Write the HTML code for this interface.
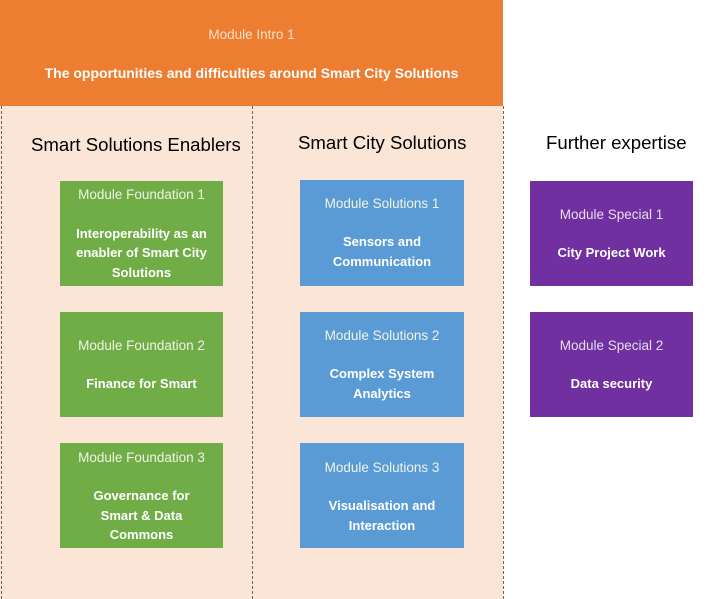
<!DOCTYPE html>
<html><head><meta charset="utf-8"><style>
body{margin:0;width:709px;height:599px;position:relative;background:#fff;font-family:"Liberation Sans",sans-serif;overflow:hidden}
.a{position:absolute}
.t{position:absolute;left:0;right:0;text-align:center;color:#fff;line-height:20px;height:20px;white-space:nowrap}
.r{font-size:13.5px;color:#eef3e6}
.b{font-weight:bold;font-size:13px}
.h{position:absolute;font-size:18.6px;color:#000;white-space:nowrap}
.g{background:#70ad47}.bl{background:#5b9bd5}.p{background:#7030a0}
.d{position:absolute;top:106px;height:493px;border-left:1px dashed #666;width:0}
</style></head><body>
<div class="a" style="left:0;top:106px;width:503px;height:493px;background:#fbe5d6"></div>
<div class="d" style="left:1px"></div>
<div class="d" style="left:252px"></div>
<div class="d" style="left:503px"></div>
<div class="a" style="left:0;top:0;width:503px;height:106px;background:#ed7d31">
<div class="t r" style="top:25px;color:#fbe0cc">Module Intro 1</div>
<div class="t b" style="top:63px;font-size:14px">The opportunities and difficulties around Smart City Solutions</div>
</div>
<div class="h" style="left:31px;top:134px">Smart Solutions Enablers</div>
<div class="h" style="left:298px;top:132px">Smart City Solutions</div>
<div class="h" style="left:546px;top:132px">Further expertise</div>

<div class="a g" style="left:60px;top:181px;width:163px;height:105px">
<div class="t r" style="top:4px">Module Foundation 1</div>
<div class="t b" style="top:43px">Interoperability as an</div>
<div class="t b" style="top:62px">enabler of Smart City</div>
<div class="t b" style="top:82px">Solutions</div></div>
<div class="a g" style="left:60px;top:312px;width:163px;height:105px">
<div class="t r" style="top:24px">Module Foundation 2</div>
<div class="t b" style="top:62px">Finance for Smart</div></div>
<div class="a g" style="left:60px;top:443px;width:163px;height:105px">
<div class="t r" style="top:5px">Module Foundation 3</div>
<div class="t b" style="top:43px">Governance for</div>
<div class="t b" style="top:63px">Smart &amp; Data</div>
<div class="t b" style="top:82px">Commons</div></div>

<div class="a bl" style="left:300px;top:180px;width:164px;height:106px">
<div class="t r" style="top:14px">Module Solutions 1</div>
<div class="t b" style="top:52px">Sensors and</div>
<div class="t b" style="top:72px">Communication</div></div>
<div class="a bl" style="left:300px;top:312px;width:164px;height:105px">
<div class="t r" style="top:14px">Module Solutions 2</div>
<div class="t b" style="top:52px">Complex System</div>
<div class="t b" style="top:72px">Analytics</div></div>
<div class="a bl" style="left:300px;top:443px;width:164px;height:105px">
<div class="t r" style="top:15px">Module Solutions 3</div>
<div class="t b" style="top:53px">Visualisation and</div>
<div class="t b" style="top:73px">Interaction</div></div>

<div class="a p" style="left:530px;top:181px;width:163px;height:105px">
<div class="t r" style="top:24px;color:#e8dcf0">Module Special 1</div>
<div class="t b" style="top:62px">City Project Work</div></div>
<div class="a p" style="left:530px;top:312px;width:163px;height:105px">
<div class="t r" style="top:24px;color:#e8dcf0">Module Special 2</div>
<div class="t b" style="top:62px">Data security</div></div>
</body></html>
